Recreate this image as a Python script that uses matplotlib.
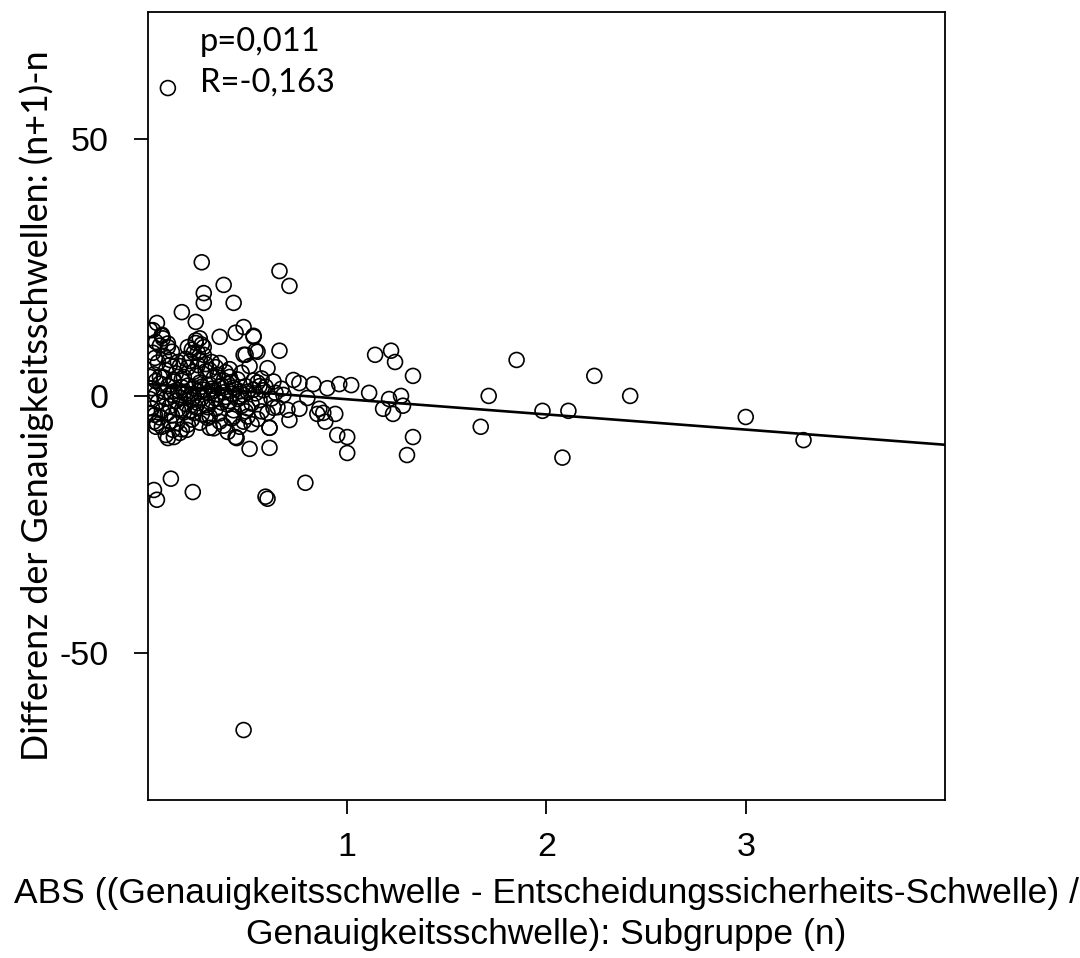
import matplotlib
matplotlib.use("Agg")
import matplotlib.pyplot as plt
import numpy as np

# Streupunkte
x_vals = [
    0.10, 0.48, 0.03, 0.045, 0.115, 0.225, 0.59, 0.60, 0.79, 0.51, 0.61, 0.44,
    0.27, 0.66, 0.71, 0.38, 0.28, 0.28, 0.43, 0.17, 0.24, 0.045, 0.48, 0.44,
    0.01, 0.07, 0.53, 0.36, 0.54, 0.48, 0.66, 1.14, 1.22, 1.24, 1.85, 2.24,
    1.33, 1.71, 2.42, 1.98, 2.11, 1.67, 2.08, 3.00, 3.29, 1.30, 1.33, 1.00,
    0.95, 1.02, 0.96, 1.11, 1.18, 1.23, 1.27, 1.28, 1.21, 0.94, 0.90, 0.83,
    0.80, 0.86, 0.88, 0.85, 0.89, 0.76, 0.73, 0.71, 0.70, 0.67, 0.68, 0.60,
    0.61, 0.76, 1.00,
    0.035, 0.045, 0.04, 0.10, 0.125, 0.16, 0.195, 0.31, 0.40, 0.445, 0.61,
    0.46, 0.60, 0.63, 0.43, 0.30, 0.23, 0.17, 0.01, 0.145, 0.36, 0.50,
    0.025, 0.07, 0.075, 0.10, 0.53, 0.55, 0.49, 0.56, 0.53, 0.025, 0.035,
    0.24, 0.20, 0.28, 0.25, 0.26, 0.25, 0.23, 0.18, 0.13, 0.06, 0.01, 0.32,
    0.36, 0.35, 0.41, 0.42, 0.11, 0.11,
    0.02, 0.04, 0.05, 0.06, 0.08, 0.09, 0.10, 0.11, 0.12, 0.13, 0.14, 0.15,
    0.16, 0.17, 0.18, 0.19, 0.20, 0.21, 0.22, 0.23, 0.24, 0.25, 0.26, 0.27,
    0.28, 0.29, 0.30, 0.31, 0.32, 0.33, 0.34, 0.35, 0.36, 0.37, 0.38, 0.39,
    0.40, 0.41, 0.42, 0.43, 0.44, 0.45, 0.46, 0.47, 0.48, 0.49, 0.50, 0.52,
    0.54, 0.56, 0.58, 0.03, 0.07, 0.09, 0.12, 0.14, 0.18, 0.20, 0.22, 0.24,
    0.27, 0.29, 0.31, 0.33, 0.36, 0.39, 0.42, 0.45, 0.50, 0.53, 0.01, 0.02,
    0.04, 0.06, 0.08, 0.10, 0.13, 0.15, 0.17, 0.19, 0.21, 0.23, 0.25, 0.27,
    0.30, 0.32, 0.34, 0.37, 0.40, 0.43, 0.46, 0.49, 0.05, 0.08, 0.12, 0.16,
    0.19, 0.22, 0.24, 0.26, 0.27, 0.28, 0.23, 0.15, 0.06, 0.04, 0.10, 0.21,
    0.29, 0.31, 0.34, 0.38, 0.41, 0.47, 0.51, 0.55, 0.57, 0.59, 0.62, 0.63,
    0.65, 0.64, 0.57, 0.55, 0.52, 0.48, 0.38, 0.33, 0.26, 0.20, 0.11, 0.07,
    0.03, 0.09, 0.13, 0.17,
]
y_vals = [
    59.9, -65.0, -18.3, -20.2, -16.1, -18.7, -19.6, -20.0, -16.9, -10.3, -10.1, -8.0,
    26.0, 24.3, 21.4, 21.6, 20.0, 18.1, 18.1, 16.3, 14.4, 14.2, 13.4, 12.3,
    12.8, 11.9, 11.5, 11.5, 8.8, 8.0, 8.8, 8.0, 8.8, 6.6, 7.0, 3.9,
    3.9, 0.0, 0.0, -2.9, -2.9, -6.0, -12.0, -4.1, -8.6, -11.5, -8.0, -11.1,
    -7.6, 2.1, 2.3, 0.6, -2.5, -3.5, 0.0, -1.9, -0.6, -3.5, 1.5, 2.3,
    -0.4, -2.5, -3.3, -3.5, -5.0, 2.5, 3.1, -4.7, -2.7, 1.4, 0.2, 5.4,
    -6.2, -2.5, -8.0,
    -3.7, -5.3, -6.0, -8.2, -6.6, -7.2, -6.6, -6.2, -7.0, -8.2, -6.2,
    -6.0, -3.3, -2.3, -4.0, -4.3, -3.3, -2.7, -3.3, -5.3, -5.0, -4.0,
    12.8, 11.7, 11.2, 9.5, 11.7, 8.6, 8.0, 1.9, 1.2, 8.4, 7.4,
    10.3, 9.5, 9.5, 8.4, 7.0, 6.0, 4.7, 3.7, 3.1, 3.7, 3.7, 6.6,
    6.4, 4.1, 3.7, 2.7, 6.0, 7.0,
    1.5, 0.3, -1.2, 2.4, 0.8, -0.5, 1.9, -2.0, 0.2, 2.8, -1.0, 1.1,
    -0.3, 3.3, 0.6, -1.6, 2.0, 0.0, -0.8, 1.5, -2.2, 0.9, 2.6, -0.4,
    1.2, -1.8, 0.5, 2.2, -0.9, 1.0, -2.5, 0.3, 1.8, -1.3, 0.7, -0.2,
    2.4, -1.0, 0.4, -2.8, 1.3, -0.6, 0.9, -1.9, 0.2, -3.0, 0.8, -1.5,
    0.5, -0.8, 1.1, 4.2, -2.9, 5.0, -3.8, 4.4, -3.2, 5.5, -4.6, 3.9,
    -3.6, 4.8, -4.0, 3.5, -3.4, 4.6, -4.4, 3.2, -2.4, 3.0, -0.6, -2.4,
    2.9, -4.2, 3.6, -3.3, 0.9, -2.6, 1.7, 0.4, -2.9, -0.2, -1.4, 1.8,
    -2.2, 1.4, -0.5, 2.0, -1.7, 1.6, -0.1, 1.9, 6.5, 7.8, 8.6, 5.8,
    7.2, 9.0, 10.8, 11.2, 10.0, 8.0, 8.4, 6.6, 9.8, 10.5, 10.2, 6.8,
    6.2, 5.0, 5.6, 3.0, 5.2, 4.5, 5.8, 2.6, 3.4, 1.8, -0.5, 2.8,
    -2.2, 0.6, -3.0, -4.5, -5.5, -5.0, -5.8, -6.3, -5.2, -5.6, -5.0, -6.0,
    -5.0, -7.6, -8.0, -6.5,
]

# Regressionsgerade
fit_intercept = 2.3
fit_slope = -2.95

x_ticks = [1, 2, 3]
y_ticks = [-50, 0, 50]

fig = plt.figure(figsize=(10.8, 9.58), dpi=100)
ax = fig.add_axes([0.137, 0.165, 0.738, 0.8225])

ax.scatter(x_vals, y_vals, s=115, facecolors="none", edgecolors="black", linewidths=1.2, zorder=3)

line_x = np.array([0, 4])
ax.plot(line_x, fit_intercept + fit_slope * line_x, color="black", lw=1.9, zorder=2)

ax.set_xlim(0, 4)
ax.set_ylim(-78.6, 74.7)
ax.set_xticks(x_ticks)
ax.set_yticks(y_ticks)
ax.set_xticklabels([str(t) for t in x_ticks], family="Liberation Sans", fontsize=24.5)
ax.set_yticklabels([str(t) for t in y_ticks], family="Liberation Sans", fontsize=24.5)
ax.tick_params(direction="out", length=10, width=1.3)
ax.tick_params(axis="x", pad=13)
ax.tick_params(axis="y", pad=18)
for sp in ax.spines.values():
    sp.set_linewidth(1.3)

ax.set_xlabel("ABS ((Genauigkeitsschwelle - Entscheidungssicherheits-Schwelle) /\nGenauigkeitsschwelle): Subgruppe (n)",
              family="Liberation Sans", fontsize=25.5, labelpad=10, linespacing=1.3)
ax.set_ylabel("Differenz der Genauigkeitsschwellen: (n+1)-n", family="Lato", fontsize=25.8, labelpad=4)

ax.text(0.065, 0.962, "p=0,011", transform=ax.transAxes, family="Lato", fontsize=23.5, va="center")
ax.text(0.065, 0.911, "R=-0,163", transform=ax.transAxes, family="Lato", fontsize=23.5, va="center")

fig.savefig("out.png", dpi=100)
